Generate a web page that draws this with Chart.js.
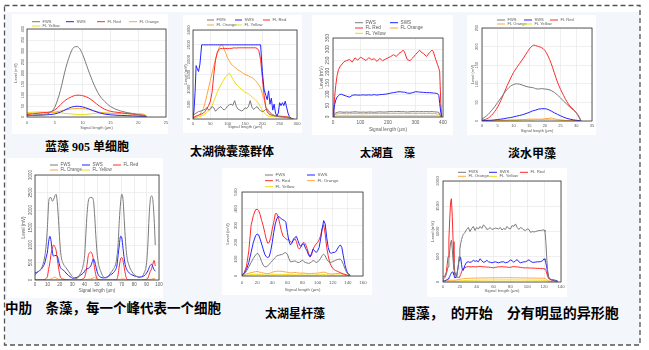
<!DOCTYPE html>
<html>
<head>
<meta charset="utf-8">
<script src="https://cdn.jsdelivr.net/npm/chart.js@4.4.1/dist/chart.umd.min.js"></script>
<style>
  html, body { margin: 0; padding: 0; background: #fff; }
  #page { position: relative; width: 649px; height: 350px; overflow: hidden; }
  #bg { position: absolute; left: 5px; top: 12px; width: 635px; height: 333px; background: #f3f6fa; }
  .panel { position: absolute; background: #fff; }
  .cap { position: absolute; font-family: "Liberation Serif", "Noto Sans CJK SC", serif; font-weight: 700;
         color: #000; white-space: pre; line-height: 1; }
</style>
</head>
<body>
<div id="page">
  <div id="bg"></div>
  <svg width="649" height="350" style="position:absolute;left:0;top:0">
    <rect x="4.5" y="5.5" width="635.5" height="339.5" fill="none" stroke="#555" stroke-width="1.3" stroke-dasharray="5 3"/>
  </svg>
</div>
<script>
// --- series names shared by every panel ---
const seriesNames = ['FWS', 'SWS', 'FL Red', 'FL Orange', 'FL Yellow'];
const axisTitleX = 'Signal length (µm)';
const axisTitleY = 'Level (mV)';
const captionTexts = ['蓝藻 905 单细胞', '太湖微囊藻群体', '太湖直　藻', '淡水甲藻',
  '中肋　条藻，每一个峰代表一个细胞', '太湖星杆藻', '腥藻，　的开始　分有明显的异形胞'];

// 蓝藻 905 单细胞
const c1Len = [0,1,2,3,4,5,6,7,8,8.5,9,9.5,10,11,12,13,14,15,16,17,18,19,20,21,21.5];
const c1Fws = [6,8,10,12,18,45,120,225,300,318,320,310,285,215,150,100,70,48,35,26,20,16,10,6,2];
const c1Sws = [6,7,8,9,11,14,22,34,45,48,49,48,46,38,28,19,13,10,8,7,6,5,4,3,1];
const c1Red = [11,14,17,20,22,32,55,78,92,97,99,99,97,88,70,50,35,26,22,19,16,13,10,7,2];
const c1Orange = [15,17,18,19,20,22,27,33,37,38,39,39,38,35,28,22,18,16,15,15,15,15,14,12,4];
const c1Yellow = [20,22,23,23,22,21,19,16,14,13,12,11,11,13,16,18,18,17,16,16,15,14,13,12,4];
const c1XTicks = [0,5,10,15,20,25];
const c1YTicks = [0,50,100,150,200,250,300,350,400];

// 太湖微囊藻群体
const c2Len = [0,3,6,9,12,16,20,25,30,35,40,45,50,55,60,65,70,75,80,85,90,95,100,105,110,115,120,125,130,135,140,145,150,155,160,165,170,175,180,185,190,195,200,205,210,214,218,222,226,230,234,238,242,246,250,254,258,262,266,270,274,278,282,286,290];
const c2Fws = [100,150,180,200,220,250,260,
  280,300,330,380,300,330,420,380,260,330, 380,420,350,300,360,440,480,500,460,620,
  420,330,300,270,300,380,350,420,620,400, 320,380,420,330,280,
  250,270,330, 350,280,220,180,150,120,100,90,80,80,70,70,60,60,50,40,30,20,10,0];
const c2Sws = [0,300,900,1800,1700,1600,1850,
  2500,2500,2500,2500,2500,2500,2500,2500,2500,2500, 2500,2500,2500,2500,2500,2500,2500,2500,2500,2500,
  2500,2500,2500,2500,2500,2500,2500,2500,2500,2500, 2500,2500,2500,2500,2500,
  1600,1000,800, 650,950,500,700,300,500,200,100,200,550,450,550,450,600,400,200,80,30,0,0];
const c2Red = [50,60,80,100,110,130,150,
  170,200,260,350,450,600,900,1500,2000,2250, 2350,2380,2370,2380,2380,2370,2380,2380,2390,2400,
  2390,2400,2400,2400,2400,2400,2400,2400,2400,2400, 2400,2400,2380,2300,2000,
  1400,800,400, 250,180,150,130,120,110,100,100,90,90,85,80,80,75,70,60,50,30,10,0];
const c2Orange = [50,60,70,90,100,120,150,
  250,350,550,800,1050,1300,1550,1800,2000,2200, 2400,2500,2500,2350,2200,2050,1950,1850,1800,1750,
  1700,1650,1620,1580,1540,1500,1480,1450,1420,1400, 1350,1300,1230,1150,1050,
  850,650,420, 300,230,180,150,130,120,120,110,110,100,100,95,90,85,80,70,60,40,15,0];
const c2Yellow = [30,35,40,50,60,70,80,
  110,140,170,220,280,350,450,600,750,900, 1030,1150,1250,1350,1430,1500,1550,1450,1350,1250,
  1170,1100,1050,1000,950,900,880,850,800,750, 700,650,580,500,400,
  300,220,150, 120,100,90,85,80,80,75,70,70,65,60,60,55,50,45,40,30,20,10,0];
const c2XTicks = [0,50,100,150,200,250,300];
const c2YTicks = [0,500,1000,1500,2000,2500,3000];

// 太湖直 藻
const c3Len = [0,3,6,10,15,20,25,30,40,50,60,70,80,90,100,110,120,130,140,150,160,170,180,190,200,210,220,230,240,250,255,260,270,280,290,300,310,315,320,330,340,350,360,365,370,375,380,385,388,392,395];
const c3Fws = [0,8,14,18,20,22,23,22, 21,22,21,22,23,22,21,22,21,22,22,21,22,23,22,22,23,24,23,24,24,23, 24, 23,22,23,24,23,24, 23, 24,23,24,23,24, 23,23,22,22,20,12,4,0];
const c3Sws = [0,30,55,75,88,95,100,101, 96,92,88,96,98,97,97,98,97,98,97,99,97,99,100,101,103,106,108,110,112,111, 110, 110,106,105,108,112,111, 110, 110,109,108,108,107, 106,106,105,104,95,60,20,0];
const c3Red = [0,40,90,140,185,210,222,230, 245,250,255,243,262,252,265,258,250,263,254,258,246,260,249,256,262,268,276,268,282,290, 296, 288,254,250,262,276,290, 296, 288,280,268,284,296, 290,268,250,232,215,200,60,0];
const c3Orange = [0,6,10,12,14,15,15,15, 15,14,15,15,16,15,15,14,15,15,16,15,15,16,15,15,16,16,15,16,16,16, 16, 16,15,16,16,15,16, 16, 16,15,16,16,15, 15,15,14,13,13,8,3,0];
const c3Yellow = [0,2,4,5,5,6,6,6, 6,6,6,6,6,6,6,6,6,6,6,6,6,6,6,6,6,6,6,6,6,6, 6, 6,6,6,6,6,6, 6, 6,6,6,6,6, 6,6,6,5,5,3,1,0];
const c3XTicks = [0,100,200,300,400];
const c3YTicks = [0,50,100,150,200,250,300,350];

// 淡水甲藻
const c4Len = [0,1,2,3,4,5,6,7,8,9,10,11,12,13,14,15,16,16.5,17,18,19,20,21,22,23,24,25,26,27,28,29,30,31,31.5];
const c4Fws = [5,11,18,28,38,50,62,74,85,93,98,100,99,96,93,91,90,89,87,86,87,86,85,82,77,70,62,53,45,37,30,22,10,0];
const c4Sws = [1,1,2,2,3,4,5,6,8,9,11,13,15,17,20,23,27,28,29,32,33,33,31,27,22,18,14,10,7,5,3,2,1,0];
const c4Red = [2,4,8,15,25,38,55,75,95,113,130,143,155,167,180,193,202,204,203,200,197,190,175,155,130,105,85,68,52,40,32,22,8,0];
const c4Orange = [0,0,1,1,1,1,2,2,2,3,3,3,4,4,4,5,5,5,5,5,5,6,7,8,6,4,3,2,1,1,1,0,0,0];
const c4Yellow = [0,0,0,1,1,1,1,1,2,2,2,2,2,3,3,3,3,3,4,4,4,4,4,4,3,3,2,2,1,1,1,0,0,0];
const c4XTicks = [0,5,10,15,20,25,30,35];
const c4YTicks = [0,50,100,150,200,250];

// 中肋 条藻
const c5Len = [0,3,6,8, 9,10,11,12,13,14,15,16,17,18,19,20,21, 23,25,27,29,30,32,34,36,38, 39,40,41,42,43,44,45,46,47,48,49,50,51, 53,55,57,59,61,63,65, 66,67,68,69,70,71,72,73,74, 76,78,80,82,84,86,88,90, 91,92,93,94,95,96,97];
const c5Fws = [150,250,400,700, 1000,1500,2200,2350,2350,2250,2300,2400,2450,2200,1700,1100,700, 450,350,250,150,100,50,50,150,300, 450,700,1300,1900,2250,2350,2360,2350,2300,1900,1300,800,500, 250,100,60,100,200,300,450, 650,1000,1700,2200,2450,2300,1700,1100,700, 400,250,150,100,80,100,200,500, 1000,1800,2300,2400,2300,1800,1000];
const c5Sws = [200,250,350,500, 650,800,1100,1250,1100,800,680,700,700,680,550,400,330, 280,200,130,80,50,60,80,120,170, 200,250,300,320,330,360,400,500,600,550,400,250,150, 80,60,70,100,150,200,300, 400,700,1000,1250,1200,900,600,400,300, 200,150,120,100,80,90,120,200, 260,350,420,450,380,300,250];
const c5Red = [0,0,5,20, 50,100,300,500,750,900,1000,950,850,600,350,150,60, 20,5,0,0,0,0,0,0,20, 40,80,200,450,700,780,800,750,600,350,150,40,10, 0,0,0,0,0,0,5, 20,150,400,600,640,550,350,150,30, 5,0,0,0,0,0,5,20, 50,150,250,320,450,560,400];
const c5Orange = [0,0,0,5, 5,10,15,20,30,50,70,80,60,40,20,15,10, 25,10,5,0,0,0,0,0,0, 5,5,10,15,20,25,30,45,60,75,50,20,10, 5,0,0,0,0,0,0, 5,10,15,20,25,30,30,15,5, 0,0,0,0,0,0,0,5, 10,15,20,25,35,40,30];
const c5Yellow = [5,8,10,10, 10,12,12,14,14,15,15,14,12,12,10,10,10, 10,8,8,6,5,5,5,6,8, 8,10,10,12,12,14,14,15,15,14,12,10,10, 8,6,5,5,6,8,8, 10,10,12,14,15,14,12,10,10, 8,6,5,5,5,6,8,10, 10,12,14,15,14,12,10];
const c5XTicks = [0,10,20,30,40,50,60,70,80,90,100];
const c5YTicks = [0,500,1000,1500,2000,2500,3000];

// 太湖星杆藻
const c6Len = [0,3,6,9,12,15,18, 20,22,24,26,28,30,32,34,36,38, 40,42,44,46,48,50,52,54,56,58, 60,62,64,66,68,70,72,74,76,78, 80,82,84,86,88,90,92,94,96,98, 100,102,104,106,108,110,112,114,116,118, 120,122,124,126,128,130,132,134,136,138, 140,143];
const c6Fws = [3,12,30,55,80,105,125, 135,130,110,85,65,55,55,60,70,80, 90,100,110,120,123,125,127,130,138,138, 130,105,85,85,88,90,85,80,82,88, 95,85,80,78,75,78,85,92,88,80, 85,92,105,122,130,120,100,88,80,82, 86,90,94,98,100,100,90,70,45,25, 12,3];
const c6Sws = [5,15,40,80,140,200,240, 250,245,220,190,160,130,115,110,115,150, 200,260,310,340,355,350,340,335,330,320, 260,210,185,195,220,230,235,210,185,175, 190,190,165,150,125,115,135,160,150,140, 150,170,220,280,330,310,230,170,140,135, 140,140,145,160,175,185,170,120,70,35, 15,5];
const c6Red = [5,20,60,150,300,360,395, 397,390,365,330,300,260,220,195,200,230, 280,320,370,372,350,310,270,240,230,222, 215,218,205,200,210,222,205,170,160,175, 195,200,190,165,135,112,125,160,178,190, 200,215,240,285,305,250,170,120,80,60, 45,38,32,28,24,20,16,12,10,7, 4,2];
const c6Orange = [3,8,12,16,20,23,26, 27,25,22,20,18,16,15,14,15,18, 22,25,27,28,29,28,28,27,25,24, 22,20,18,19,20,21,20,18,17,17, 18,17,16,15,14,14,15,16,16,16, 17,18,20,22,23,22,18,15,13,12, 12,13,14,15,16,16,14,10,7,4, 2,1];
const c6Yellow = [1,3,5,6,8,9,10, 10,10,9,8,7,6,6,6,6,7, 8,9,10,10,10,10,10,9,9,9, 8,8,7,7,7,7,7,7,7,7, 7,7,6,6,6,6,6,6,6,6, 7,7,7,8,8,8,7,6,5,5, 5,5,5,6,6,6,5,4,3,2, 1,0];
const c6XTicks = [0,20,40,60,80,100,120,140,160];
const c6YTicks = [0,100,200,300,400,500];

// 腥藻
const c7Len = [0,2,4,6,7,8,9,10,11,12,13,14,16,18,19,20,21,22,23,24,
  26,28,30,32,34,36,38,40,42,44, 46,48,50,52,54,56,58,60,62,64, 66,68,70,72,74,76,78,80,82,84,
  86,88,90,92,94,96,98,100,102,104, 106,108,110,112,114,116,118,120,
  121,122,123,124,125,126,128,130,133,136];
const c7Fws = [50,80,150,300,450,620,780,830,650,420,250,140,90,300,500,650,760,840,900,940,
  980,1040,1080,1000,1060,1100,1020,1080,1050,1100, 1060,1130,1100,1040,1050,1080,1040,1050,1070,1060,
  1050,1080,1030,1060,1040,1100,1060,1050,1120,1100, 1150,1080,1040,1080,1060,1030,1020,1050,1040,980,
  1000,990,1000,1010,1020,1020,1030,1030,
  1000,800,500,250,120,70,55,45,30,10];
const c7Sws = [20,25,40,60,80,110,150,180,200,190,140,80,100,300,430,500,480,350,240,230,
  330,390,400,390,400,430,410,420,400,460, 420,390,400,430,400,390,380,390,400,390,
  380,390,400,400,380,390,400,440,420,390, 420,445,400,380,390,400,400,420,440,410,
  390,390,395,400,400,405,420,460,
  440,380,300,200,120,70,45,40,35,20];
const c7Red = [100,110,200,500,850,1250,1580,1650,1300,800,400,200,110,90,95,110,150,200,240,260,
  285,300,305,300,300,305,300,300,305,310, 305,300,300,295,295,290,285,280,290,295,
  300,300,305,300,300,295,290,290,300,305, 300,300,295,290,285,280,280,280,278,275,
  275,275,272,270,270,268,265,262,
  255,230,180,120,80,60,45,35,20,5];
const c7Orange = [20,20,25,30,30,35,35,35,35,35,35,35,40,45,50,55,58,60,62,65,
  68,70,72,74,75,76,77,78,78,79, 80,80,80,81,81,82,82,82,83,83,
  84,84,85,85,85,85,84,84,84,83, 83,82,82,81,81,80,80,80,79,78,
  78,77,77,76,76,75,75,75,
  72,65,50,35,25,20,15,10,8,3];
const c7Yellow = [10,10,12,14,15,15,16,16,16,16,16,16,18,20,22,24,25,26,27,28,
  30,31,32,33,34,35,35,36,36,37, 37,38,38,38,39,39,39,40,40,40,
  40,41,41,41,41,41,41,41,41,40, 40,40,40,40,39,39,39,38,38,38,
  37,37,37,36,36,36,35,35,
  33,28,22,16,12,10,8,6,4,2];
const c7XTicks = [0,20,40,60,80,100,120,140];
const c7YTicks = [0,500,1000,1500,2000];

// --- look ---
const seriesColors = ['#7a7a7a', '#2323ff', '#ff2a2a', '#ffa53a', '#eedd10'];
const FONT = "'Liberation Sans', Arial, sans-serif";
const TEXT_COLOR = '#5a5a5a';
Chart.defaults.font.family = FONT;

// page coordinates: panel [l,t,r,b], plot area [l,t,r,b]
const layouts = {
  c1: { panel: [12, 14, 168, 134], plot: [27, 29, 166, 117], fs: 4, yTitleX: 15.5, xTitleY: 128.3, yLab: 4.3, xLab: 5.4,
        legend: { cols: [32, 66, 97, 129], rows: [21.7, 26], len: 8 } },
  c2: { panel: [183, 15, 302, 133], plot: [193, 30, 297, 119], fs: 4.2, yTitleX: 186, xTitleY: 126.7, yLab: 4, xLab: 4.5,
        legend: { cols: [207, 235, 263], rows: [20, 25], len: 7 } },
  c3: { panel: [312, 15, 453, 135], plot: [333, 38, 443, 117], fs: 4.7, yTitleX: 322, xTitleY: 129.3, yLab: 5.3, xLab: 5.7,
        legend: { cols: [355, 390], rows: [22.7, 28, 33.3], len: 8 } },
  c4: { panel: [467, 15, 596, 135], plot: [482, 28, 592, 121], fs: 4, yTitleX: 473, xTitleY: 131, yLab: 4.7, xLab: 5,
        legend: { cols: [497, 524, 550], rows: [20, 24], len: 8 } },
  c5: { panel: [7, 158, 163, 298], plot: [35, 175, 159, 280], fs: 4.5, yTitleX: 24, xTitleY: 291, yLab: 4.5, xLab: 5,
        legend: { cols: [50, 82, 113], rows: [165, 170], len: 8 } },
  c6: { panel: [222, 168, 372, 295], plot: [242, 192, 363, 276], fs: 4.4, yTitleX: 228, xTitleY: 289.3, yLab: 6, xLab: 6.3,
        legend: { cols: [265, 307], rows: [175, 180.7, 186.7], len: 8 } },
  c7: { panel: [427, 168, 567, 297], plot: [443, 181, 561, 282], fs: 4.3, yTitleX: 432.7, xTitleY: 291, yLab: 4.7, xLab: 4.7,
        legend: { cols: [458, 489, 520], rows: [172.3, 176.3], len: 8 } }
};
const captionPos = [
  { left: 45, cy: 147, size: 12 }, { left: 190, cy: 151.7, size: 12 }, { left: 360, cy: 153, size: 11 },
  { left: 508, cy: 154, size: 12 }, { left: 5, cy: 309, size: 13.5 }, { left: 265, cy: 314, size: 12 },
  { left: 401.7, cy: 314, size: 14 }
];

// legend in a fixed grid, as in the original export
const gridLegend = {
  id: 'gridLegend',
  afterDraw(chart, args, opts) {
    const ctx = chart.ctx;
    ctx.save();
    ctx.font = opts.size + 'px ' + FONT;
    ctx.textBaseline = 'middle';
    chart.data.datasets.forEach((ds, i) => {
      const x = opts.cols[i % opts.cols.length];
      const y = opts.rows[Math.floor(i / opts.cols.length)];
      ctx.strokeStyle = ds.borderColor;
      ctx.lineWidth = 1;
      ctx.beginPath();
      ctx.moveTo(x, y);
      ctx.lineTo(x + opts.len, y);
      ctx.stroke();
      ctx.fillStyle = TEXT_COLOR;
      ctx.fillText(ds.label, x + opts.len + 2.5, y);
    });
    ctx.restore();
  }
};

// black box round the plot
const plotFrame = {
  id: 'plotFrame',
  afterDatasetsDraw(chart) {
    const { ctx, chartArea: a } = chart;
    ctx.save();
    ctx.strokeStyle = '#333';
    ctx.lineWidth = 0.8;
    ctx.strokeRect(a.left, a.top, a.right - a.left, a.bottom - a.top);
    ctx.restore();
  }
};

const measureCtx = document.createElement('canvas').getContext('2d');

function buildChart(lay, xs, series, xTicks, yTicks, smooth) {
  const [pl, pt, pr, pb] = lay.panel;
  const [al, at, ar, ab] = lay.plot;
  const lh = lay.fs * 1.2;
  const box = document.createElement('div');
  box.className = 'panel';
  box.style.left = pl + 'px';
  box.style.top = pt + 'px';
  box.style.width = (pr - pl) + 'px';
  box.style.height = (pb - pt) + 'px';
  const cv = document.createElement('canvas');
  box.appendChild(cv);
  document.getElementById('page').appendChild(box);

  const font = { size: lay.fs, family: FONT };
  measureCtx.font = lay.fs + 'px ' + FONT;
  const widest = Math.max(...yTicks.map(v => measureCtx.measureText(String(v)).width));

  new Chart(cv, {
    type: 'line',
    data: {
      datasets: series.map((ys, i) => ({
        label: seriesNames[i],
        data: xs.map((x, k) => ({ x: x, y: ys[k] })),
        borderColor: seriesColors[i],
        backgroundColor: seriesColors[i],
        borderWidth: 1,
        pointRadius: 0,
        fill: false,
        tension: 0,
        cubicInterpolationMode: smooth ? 'monotone' : 'default'
      }))
    },
    options: {
      responsive: true,
      maintainAspectRatio: false,
      animation: false,
      events: [],
      layout: { padding: { left: 0, top: at - pt, right: pr - ar, bottom: 0 } },
      plugins: {
        legend: { display: false },
        tooltip: { enabled: false },
        gridLegend: {
          cols: lay.legend.cols.map(c => c - pl),
          rows: lay.legend.rows.map(r => r - pt),
          len: lay.legend.len,
          size: lay.fs
        }
      },
      scales: {
        x: {
          type: 'linear',
          min: xTicks[0],
          max: xTicks[xTicks.length - 1],
          afterBuildTicks: s => { s.ticks = xTicks.map(v => ({ value: v })); },
          afterFit: s => { s.height = pb - ab; s.paddingLeft = 0; s.paddingRight = 0; },
          ticks: { autoSkip: false, minRotation: 0, maxRotation: 0, padding: lay.xLab - lh / 2,
                   font: font, color: TEXT_COLOR, callback: v => String(v) },
          grid: { color: '#e4e4e4', lineWidth: 0.6, drawTicks: false },
          border: { display: false },
          title: { display: true, text: axisTitleX, font: font, color: TEXT_COLOR,
                   padding: { top: 0, bottom: pb - lay.xTitleY - lh / 2 } }
        },
        y: {
          type: 'linear',
          min: yTicks[0],
          max: yTicks[yTicks.length - 1],
          afterBuildTicks: s => { s.ticks = yTicks.map(v => ({ value: v })); },
          afterFit: s => { s.width = al - pl; s.paddingTop = 0; s.paddingBottom = 0; },
          ticks: { autoSkip: false, minRotation: 90, maxRotation: 90, crossAlign: 'center',
                   padding: lay.yLab - widest / 2, font: font, color: TEXT_COLOR, callback: v => String(v) },
          grid: { color: '#e4e4e4', lineWidth: 0.6, drawTicks: false },
          border: { display: false },
          title: { display: true, text: axisTitleY, font: font, color: TEXT_COLOR,
                   padding: { top: lay.yTitleX - pl - lh / 2, bottom: 0 } }
        }
      }
    },
    plugins: [gridLegend, plotFrame]
  });
}

buildChart(layouts.c1, c1Len, [c1Fws, c1Sws, c1Red, c1Orange, c1Yellow], c1XTicks, c1YTicks, true);
buildChart(layouts.c2, c2Len, [c2Fws, c2Sws, c2Red, c2Orange, c2Yellow], c2XTicks, c2YTicks, false);
buildChart(layouts.c3, c3Len, [c3Fws, c3Sws, c3Red, c3Orange, c3Yellow], c3XTicks, c3YTicks, false);
buildChart(layouts.c4, c4Len, [c4Fws, c4Sws, c4Red, c4Orange, c4Yellow], c4XTicks, c4YTicks, true);
buildChart(layouts.c5, c5Len, [c5Fws, c5Sws, c5Red, c5Orange, c5Yellow], c5XTicks, c5YTicks, true);
buildChart(layouts.c6, c6Len, [c6Fws, c6Sws, c6Red, c6Orange, c6Yellow], c6XTicks, c6YTicks, false);
buildChart(layouts.c7, c7Len, [c7Fws, c7Sws, c7Red, c7Orange, c7Yellow], c7XTicks, c7YTicks, false);

// captions under each picture
captionTexts.forEach((txt, i) => {
  const p = captionPos[i];
  const d = document.createElement('div');
  d.className = 'cap';
  d.textContent = txt;
  d.style.left = p.left + 'px';
  d.style.top = (p.cy - p.size / 2) + 'px';
  d.style.fontSize = p.size + 'px';
  document.getElementById('page').appendChild(d);
});
</script>
</body>
</html>
